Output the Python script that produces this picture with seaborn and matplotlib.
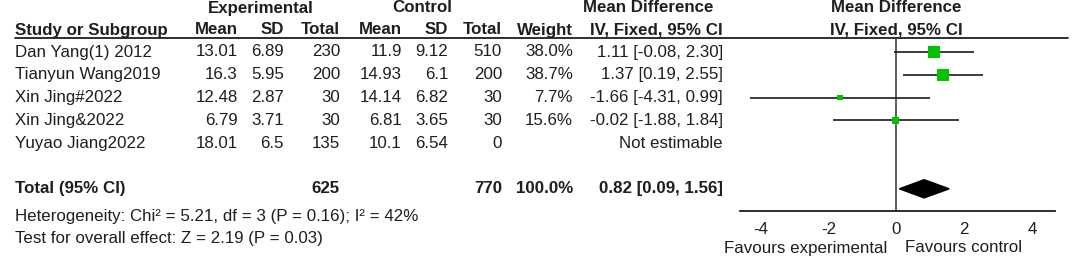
import numpy as np
import pandas as pd
import seaborn as sns
import matplotlib.pyplot as plt

# forest plot values
studies = ['Dan Yang(1) 2012', 'Tianyun Wang2019', 'Xin Jing#2022', 'Xin Jing&2022', 'Yuyao Jiang2022']
exp_mean = ['13.01', '16.3', '12.48', '6.79', '18.01']
exp_sd = ['6.89', '5.95', '2.87', '3.71', '6.5']
exp_n = [230, 200, 30, 30, 135]
ctl_mean = ['11.9', '14.93', '14.14', '6.81', '10.1']
ctl_sd = ['9.12', '6.1', '6.82', '3.65', '6.54']
ctl_n = [510, 200, 30, 30, 0]
weight = [38.0, 38.7, 7.7, 15.6, np.nan]
md = [1.11, 1.37, -1.66, -0.02, np.nan]
ci_lo = [-0.08, 0.19, -4.31, -1.88, np.nan]
ci_hi = [2.30, 2.55, 0.99, 1.84, np.nan]
total_exp, total_ctl = 625, 770
total_md, total_lo, total_hi = 0.82, 0.09, 1.56
het_text = 'Heterogeneity: Chi\u00b2 = 5.21, df = 3 (P = 0.16); I\u00b2 = 42%'
effect_text = 'Test for overall effect: Z = 2.19 (P = 0.03)'
xticks = [-4, -2, 0, 2, 4]

sns.set_style('white')
plt.rcParams['font.family'] = ['Liberation Sans', 'DejaVu Sans']
plt.rcParams['font.size'] = 12.2
TXT = '#1e1e1e'

W, H = 1072, 258
fig = plt.figure(figsize=(W / 100, H / 100), dpi=100)

# text layer in pixel coordinates
tx = fig.add_axes([0, 0, 1, 1])
tx.set_xlim(0, W)
tx.set_ylim(H, 0)
tx.axis('off')

def row_y(i):
    return 52 + 22.8 * i

# headers
hb = dict(fontweight='bold', color=TXT, va='center')
tx.text(261, 8, 'Experimental', ha='center', **hb)
tx.text(422, 8, 'Control', ha='center', **hb)
tx.text(648, 8, 'Mean Difference', ha='center', **hb)
tx.text(896, 8, 'Mean Difference', ha='center', **hb)
tx.text(15, 30, 'Study or Subgroup', ha='left', **hb)
for xr, lab in [(238, 'Mean'), (284, 'SD'), (340, 'Total'), (402, 'Mean'),
                (448, 'SD'), (502, 'Total'), (573, 'Weight'), (723, 'IV, Fixed, 95% CI')]:
    tx.text(xr, 30, lab, ha='right', **hb)
tx.text(896, 30, 'IV, Fixed, 95% CI', ha='center', **hb)
tx.plot([15, 1068], [38, 38], color=TXT, lw=1.3)

# study rows
nb = dict(color=TXT, va='center')
for i, s in enumerate(studies):
    y = row_y(i)
    tx.text(15, y, s, ha='left', **nb)
    tx.text(238, y, exp_mean[i], ha='right', **nb)
    tx.text(284, y, exp_sd[i], ha='right', **nb)
    tx.text(340, y, str(exp_n[i]), ha='right', **nb)
    tx.text(402, y, ctl_mean[i], ha='right', **nb)
    tx.text(448, y, ctl_sd[i], ha='right', **nb)
    tx.text(502, y, str(ctl_n[i]), ha='right', **nb)
    if np.isnan(weight[i]):
        tx.text(723, y, 'Not estimable', ha='right', **nb)
    else:
        tx.text(573, y, '%.1f%%' % weight[i], ha='right', **nb)
        tx.text(723, y, '%.2f [%.2f, %.2f]' % (md[i], ci_lo[i], ci_hi[i]), ha='right', **nb)

# total row
yt = row_y(6)
tx.text(15, yt, 'Total (95% CI)', ha='left', **hb)
tx.text(340, yt, str(total_exp), ha='right', **hb)
tx.text(502, yt, str(total_ctl), ha='right', **hb)
tx.text(573, yt, '100.0%', ha='right', **hb)
tx.text(723, yt, '%.2f [%.2f, %.2f]' % (total_md, total_lo, total_hi), ha='right', **hb)
tx.text(15, 216, het_text, ha='left', **nb)
tx.text(15, 238, effect_text, ha='left', **nb)
tx.text(887, 248, 'Favours experimental', ha='right', **nb)
tx.text(905, 248, 'Favours control', ha='left', **nb)

# forest panel
top_px, bot_px = 38, 211
ax = fig.add_axes([740 / W, (H - bot_px) / H, (1055 - 740) / W, (bot_px - top_px) / H])
ax.set_facecolor('none')
ax.set_xlim(-4.61, 4.68)
ax.set_ylim((bot_px - 52) / 22.8, (top_px - 52) / 22.8)

df = pd.DataFrame({'md': md, 'lo': ci_lo, 'hi': ci_hi, 'weight': weight,
                   'row': np.arange(len(studies))}).dropna()
ax.hlines(df['row'], df['lo'], df['hi'], color='#1a1a1a', lw=1.2, zorder=2)
ax.axvline(0, color='#333333', lw=1.1, zorder=1)
sns.scatterplot(data=df, x='md', y='row', size='weight', sizes=(1.93 * 7.7, 1.93 * 38.7),
                size_norm=(7.7, 38.7), marker='s', color='#00c400', linewidth=0,
                legend=False, ax=ax, zorder=3)
h = 0.4
ax.fill([total_lo, total_md, total_hi, total_md], [6, 6 - h, 6, 6 + h], color='black', zorder=3)

for sp in ['top', 'left', 'right']:
    ax.spines[sp].set_visible(False)
ax.spines['bottom'].set_color(TXT)
ax.spines['bottom'].set_linewidth(1.3)
ax.set_yticks([])
ax.set_xticks(xticks)
ax.set_xticklabels([str(t) for t in xticks])
ax.tick_params(axis='x', direction='inout', length=8, width=1.2, color=TXT,
               labelcolor=TXT, pad=4)
ax.set_xlabel('')
ax.set_ylabel('')

fig.savefig('out.png', dpi=100)
